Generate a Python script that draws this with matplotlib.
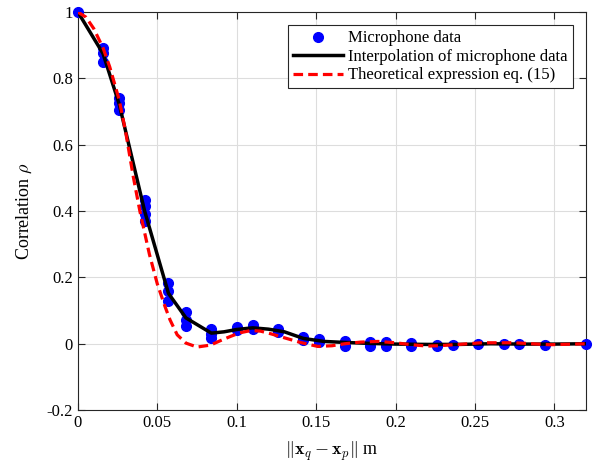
import numpy as np
import matplotlib.pyplot as plt

plt.rcParams['font.family'] = 'Liberation Serif'
plt.rcParams['mathtext.fontset'] = 'cm'

# Microphone data (distance in m, correlation)
mic_x = [0.0,
         0.0158, 0.0158, 0.0158,
         0.026, 0.026, 0.026,
         0.042, 0.042, 0.042, 0.042,
         0.057, 0.057, 0.057,
         0.068, 0.068, 0.068,
         0.084, 0.084, 0.084,
         0.100, 0.100,
         0.110, 0.110,
         0.126, 0.126,
         0.142, 0.142,
         0.152, 0.152,
         0.168, 0.168,
         0.184, 0.184,
         0.194, 0.194,
         0.210, 0.210,
         0.226, 0.226,
         0.236,
         0.252,
         0.268,
         0.278,
         0.294,
         0.320]
mic_rho = [1.0,
           0.893, 0.876, 0.850,
           0.740, 0.725, 0.706,
           0.432, 0.415, 0.390, 0.370,
           0.182, 0.158, 0.128,
           0.095, 0.073, 0.055,
           0.043, 0.030, 0.017,
           0.052, 0.042,
           0.057, 0.044,
           0.044, 0.034,
           0.021, 0.012,
           0.013, 0.006,
           0.009, -0.007,
           0.006, -0.007,
           0.006, -0.007,
           0.001, -0.008,
           -0.005, -0.008,
           -0.005,
           0.0,
           0.0,
           -0.002,
           -0.005,
           0.0]

# Interpolation of microphone data
interp_x = [0.0, 0.0158, 0.026, 0.042, 0.057, 0.068, 0.084, 0.092, 0.100, 0.110,
            0.120, 0.130, 0.142, 0.155, 0.168, 0.184, 0.20, 0.22, 0.24, 0.26,
            0.28, 0.30, 0.32]
interp_rho = [1.0, 0.875, 0.722, 0.40, 0.152, 0.078, 0.032, 0.036, 0.043, 0.048,
              0.044, 0.036, 0.016, 0.007, 0.004, 0.001, -0.001, -0.002, -0.002, 0.0,
              -0.001, -0.001, 0.0]

# Theoretical expression eq. (15)
theo_x = [0.0, 0.005, 0.010, 0.0158, 0.020, 0.026, 0.030, 0.0348, 0.039, 0.045,
          0.050, 0.055, 0.058, 0.0625, 0.068, 0.075, 0.0835, 0.090, 0.096, 0.102,
          0.109, 0.115, 0.1215, 0.130, 0.140, 0.151, 0.160, 0.168, 0.178, 0.189,
          0.200, 0.210, 0.220, 0.227, 0.240, 0.254, 0.275, 0.297, 0.320]
theo_rho = [1.0, 0.985, 0.950, 0.892, 0.835, 0.735, 0.640, 0.505, 0.400, 0.270,
            0.180, 0.110, 0.072, 0.027, 0.002, -0.010, -0.004, 0.010, 0.022, 0.033,
            0.040, 0.038, 0.030, 0.018, 0.004, -0.008, -0.006, 0.0, 0.005, 0.007,
            0.003, -0.003, -0.007, -0.006, -0.002, 0.003, 0.003, -0.003, 0.0]

fig = plt.figure(figsize=(5.95, 4.66), dpi=100)
ax = fig.add_axes([0.131, 0.120, 0.854, 0.854])

ax.plot(mic_x, mic_rho, 'o', color='blue', markersize=7, clip_on=False,
        zorder=3, label='Microphone data')
ax.plot(interp_x, interp_rho, '-', color='black', linewidth=2.5, zorder=4,
        label='Interpolation of microphone data')
ax.plot(theo_x, theo_rho, '--', color='red', linewidth=2.3, dashes=(3, 1.6),
        zorder=5, label='Theoretical expression eq. (15)')

ax.set_xlim(0, 0.32)
ax.set_ylim(-0.2, 1.0)
ax.set_xticks(np.arange(0, 0.301, 0.05))
ax.set_xticklabels(['0', '0.05', '0.1', '0.15', '0.2', '0.25', '0.3'])
ax.set_yticks(np.arange(-0.2, 1.01, 0.2))
ax.set_yticklabels(['-0.2', '0', '0.2', '0.4', '0.6', '0.8', '1'])
ax.tick_params(direction='in', top=True, right=True, labelsize=12,
               color='#262626', length=5, width=0.8)
ax.grid(True, color='#dddddd', linewidth=0.8)
ax.set_axisbelow(True)
for s in ax.spines.values():
    s.set_color('#262626')
    s.set_linewidth(0.8)

ax.set_xlabel(r'$\Vert\mathbf{x}_q-\mathbf{x}_p\Vert$ m', fontsize=13, labelpad=6)
ax.set_ylabel(r'Correlation $\rho$', fontsize=13, labelpad=9)

leg = ax.legend(loc='upper right', fontsize=12, fancybox=False, framealpha=1,
                edgecolor='#262626', handlelength=3.0, handletextpad=0.3,
                borderpad=0.3, labelspacing=0.15, borderaxespad=0.8)
leg.get_frame().set_linewidth(0.8)

fig.savefig('out.png', dpi=100)
